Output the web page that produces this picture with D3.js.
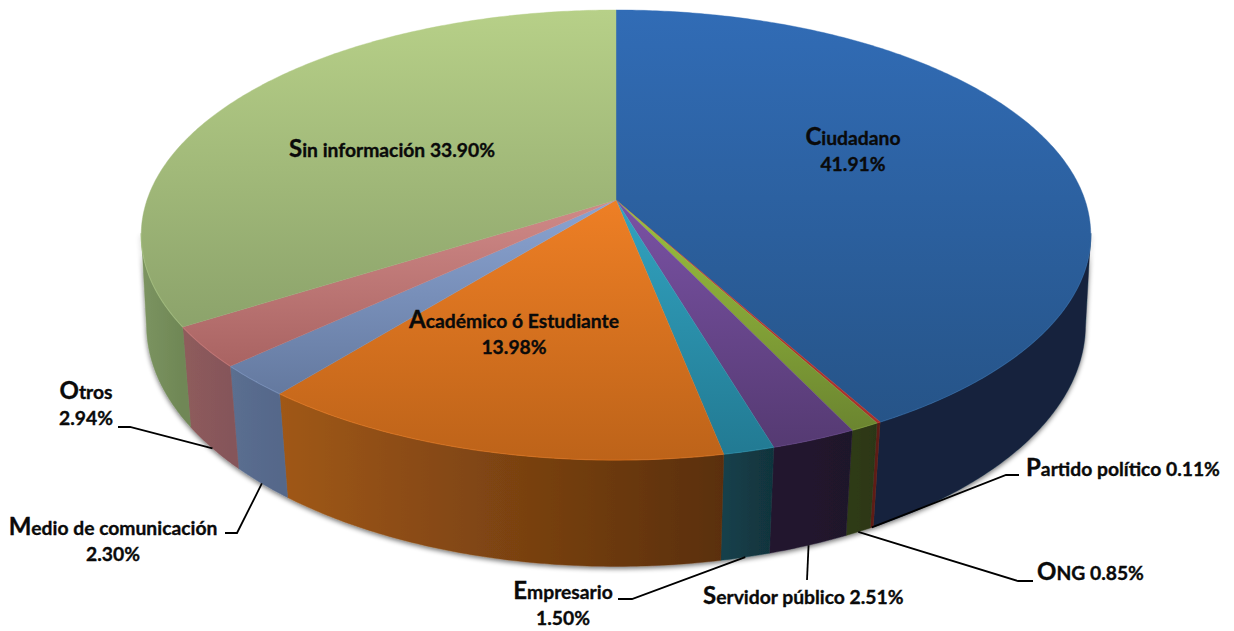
<!DOCTYPE html>
<html><head><meta charset="utf-8">
<script src="https://cdnjs.cloudflare.com/ajax/libs/d3/7.8.5/d3.min.js"></script>
<style>html,body{margin:0;padding:0;background:#fff}svg{display:block}
text{font-family:Lato,"Open Sans",sans-serif;font-weight:700;fill:#0a0a0a;stroke:#0a0a0a;stroke-width:0.35px}</style>
</head><body><svg id="c" width="1234" height="631"></svg>
<script>
const categories = ["Ciudadano","Partido político","ONG","Servidor público","Empresario","Académico ó Estudiante","Medio de comunicación","Otros","Sin información"];
const values = [41.91,0.11,0.85,2.51,1.50,13.98,2.30,2.94,33.90];

const topFar  = ["#316cb6","#c23a33","#9cc13e","#7a52a5","#32a3c0","#ee7f25","#8ba4d2","#d08a88","#b7d088"];
const topNear = ["#265488","#a8302b","#6b8530","#553a72","#227a93","#bd6319","#64799f","#a96362","#8ca36b"];
const sideLeft  = ["#12233c","#5f1d18","#2f3b16","#22182f","#14404b","#a05817","#5b6f90","#8f5c5b","#7c9460"];
const sideRight = ["#12233c","#5f1d18","#2c3615","#1f172b","#11333c","#5a2f0c","#55678a","#85555a","#6f8756"];

const svg = d3.select("#c"), defs = svg.append("defs");
const cx = 616;
const faceTop = {A:469, B:219.6, k:0.1556, y0:200};
const faceBot = {A:465, B:237, k:0.138, y0:291.5};
const project = (f,a) => {
  const u=Math.sin(a), v=Math.cos(a), w=1+f.k*v;
  return [cx+f.A*u/w, f.y0-f.B*v/w];
};
const slices = d3.pie().sort(null).value(d=>d)(values);
const arcPts = (f,a0,a1) => d3.range(0,1.0001,1/Math.max(2,Math.ceil((a1-a0)/0.01))).map(t=>project(f,a0+(a1-a0)*t));
const line = d3.line();
const rad = d=>d*Math.PI/180;
const sideMin = rad(98.5), sideMax = rad(261.5);

// gradients follow each slice's own bounding box
slices.forEach((s,i)=>{
  const ys=arcPts(faceTop,s.startAngle,s.endAngle).map(p=>p[1]).concat([faceTop.y0]);
  const g=defs.append("linearGradient").attr("id","top"+i).attr("gradientUnits","userSpaceOnUse")
    .attr("x1",0).attr("x2",0).attr("y1",d3.min(ys)).attr("y2",d3.max(ys));
  g.append("stop").attr("offset",0).attr("stop-color",topFar[i]);
  g.append("stop").attr("offset",1).attr("stop-color",topNear[i]);
  const a0=Math.max(s.startAngle,sideMin), a1=Math.min(s.endAngle,sideMax);
  const xs=a1>a0?[project(faceTop,a0)[0],project(faceTop,a1)[0]]:[0,1];
  const h=defs.append("linearGradient").attr("id","side"+i).attr("gradientUnits","userSpaceOnUse")
    .attr("x1",d3.min(xs)).attr("x2",d3.max(xs)+0.01).attr("y1",0).attr("y2",0);
  h.append("stop").attr("offset",0).attr("stop-color",sideLeft[i]);
  h.append("stop").attr("offset",1).attr("stop-color",sideRight[i]);
});
const fl=defs.append("filter").attr("id","sh").attr("x","-5%").attr("y","-5%").attr("width","110%").attr("height","112%");
fl.append("feGaussianBlur").attr("in","SourceAlpha").attr("stdDeviation",2.6).attr("result","b");
fl.append("feOffset").attr("in","b").attr("dx",0).attr("dy",2).attr("result","o");
fl.append("feComponentTransfer").attr("in","o").attr("result","t").append("feFuncA").attr("type","linear").attr("slope",0.55);
const m=fl.append("feMerge"); m.append("feMergeNode").attr("in","t"); m.append("feMergeNode").attr("in","SourceGraphic");

// side walls
const sides = svg.append("g").attr("filter","url(#sh)");
slices.forEach((s,i)=>{
  const a0=Math.max(s.startAngle,sideMin), a1=Math.min(s.endAngle,sideMax);
  if(a1<=a0) return;
  const p=arcPts(faceTop,a0,a1).concat(arcPts(faceBot,a0,a1).reverse());
  sides.append("path").attr("d",line(p)+"Z").attr("fill",`url(#side${i})`).attr("stroke",`url(#side${i})`).attr("stroke-width",0.4);
});

// top faces
const tops = svg.append("g");
slices.forEach((s,i)=>{
  const p=[[cx,faceTop.y0]].concat(arcPts(faceTop,s.startAngle,s.endAngle));
  tops.append("path").attr("d",line(p)+"Z").attr("fill",`url(#top${i})`).attr("stroke",`url(#top${i})`).attr("stroke-width",0.4);
});
// bevel along the near rim
slices.forEach((s,i)=>{
  const a0=Math.max(s.startAngle,sideMin), a1=Math.min(s.endAngle,sideMax);
  if(a1<=a0) return;
  tops.append("path").attr("d",line(arcPts(faceTop,a0,a1))).attr("fill","none")
    .attr("stroke",d3.color(topNear[i]).brighter(0.6)).attr("stroke-opacity",0.45).attr("stroke-width",1.2);
});

// leader lines, anchored at each slice's mid angle on the lower rim
const idx = n=>categories.indexOf(n);
const anchor = n=>{const s=slices[idx(n)];return project(faceBot,(s.startAngle+s.endAngle)/2);};
const leaders = [
  ["Otros",[[118,427],[130,427]]],
  ["Medio de comunicación",[[225,533],[237,533]]],
  ["Empresario",[[618,599],[632,599]]],
  ["Servidor público",[[807,580]]],
  ["ONG",[[1033,581],[1018,581]]],
  ["Partido político",[[1019,475],[1006,475]]]
];
svg.append("g").selectAll("path").data(leaders).join("path")
  .attr("d",d=>line(d[1].concat([anchor(d[0])])))
  .attr("fill","none").attr("stroke","#000").attr("stroke-width",1.8);

// labels
const pct = n=>d3.format(".2f")(values[idx(n)])+"%";
const FS=19.3, CAP=24;
function label(name,x,y,anchorMode,twoLines,pctDx=0){
  const t=svg.append("text").attr("text-anchor",anchorMode).attr("font-size",FS).attr("x",x).attr("y",y);
  t.append("tspan").attr("font-size",CAP).text(name[0]);
  const rest=name.slice(1);
  if(twoLines){
    t.append("tspan").text(rest);
    svg.append("text").attr("text-anchor",anchorMode).attr("font-size",FS).attr("x",x+pctDx).attr("y",y+26).text(pct(name));
  } else t.append("tspan").text(rest+" "+pct(name));
}
label("Ciudadano",853,145,"middle",true);
label("Sin información",289,157,"start",false);
label("Académico ó Estudiante",514,328,"middle",true);
label("Otros",86,399,"middle",true);
label("Medio de comunicación",113,535,"middle",true);
label("Empresario",563,599,"middle",true);
label("Servidor público",703,604,"start",false);
label("ONG",1037,580,"start",false);
label("Partido político",1026,476,"start",false);
</script></body></html>
